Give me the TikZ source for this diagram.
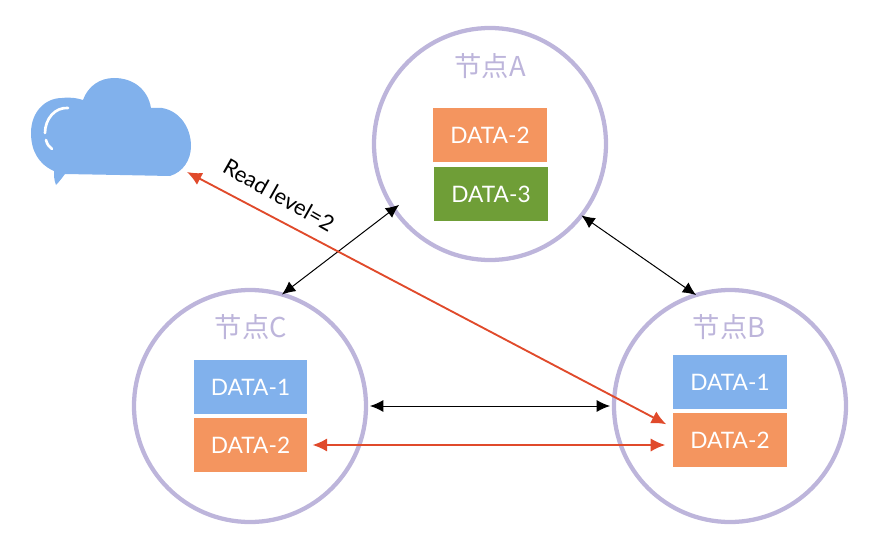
\documentclass[tikz,border=0pt]{standalone}
\usepackage{fontspec}
\setmainfont{Lato}
\newfontfamily\cjkfont{Noto Sans CJK SC}
\usetikzlibrary{arrows.meta}
\definecolor{ringc}{HTML}{BDB5DB}
\definecolor{orangec}{HTML}{F4955F}
\definecolor{greenc}{HTML}{6F9E37}
\definecolor{bluec}{HTML}{81B1EC}
\definecolor{redc}{HTML}{E04A2B}
\tikzset{
  x=0.75pt,y=-0.75pt,
  ring/.style={circle,draw=ringc,line width=3.2pt,minimum size=174pt,inner sep=0pt,outer sep=0pt},
  ringlabel/.style={text=ringc,font=\fontsize{20.5}{22}\selectfont\cjkfont,inner sep=0pt},
  databox/.style={minimum width=85pt,minimum height=40.5pt,inner sep=0pt,outer sep=0pt,text=white,font=\fontsize{17}{19}\selectfont},
  orangebox/.style={databox,fill=orangec},
  greenbox/.style={databox,fill=greenc},
  bluebox/.style={databox,fill=bluec},
  blackarrow/.style={{Latex[length=10pt,width=9pt]}-{Latex[length=10pt,width=9pt]},line width=0.75pt,black},
  redarrow/.style={{Latex[length=11pt,width=10pt]}-{Latex[length=11pt,width=10pt]},line width=1.4pt,redc},
}
\begin{document}
\begin{tikzpicture}
\useasboundingbox (0,0) rectangle (882,535);
% cloud
\fill[bluec] (56,185)
  .. controls (54,180) and (54,176) .. (54,171)
  .. controls (38,164) and (31,150) .. (31,133)
  .. controls (31,112) and (45,98) .. (62,98)
  .. controls (70,97) and (77,98) .. (83,100)
  .. controls (88,86) and (100,78) .. (114,78)
  .. controls (134,78) and (148,90) .. (151,108)
  .. controls (155,108) and (158,108) .. (162,108)
  .. controls (180,111) and (191,128) .. (191,146)
  .. controls (191,160) and (183,172) .. (170,176)
  -- (120,175) -- (65,174)
  .. controls (62,178) and (59,182) .. (56,185) -- cycle;
\draw[white,line width=2pt,line cap=round] (68,108) .. controls (55,107) and (45,119) .. (45,133);
\draw[white,line width=2pt,line cap=round] (46,140) .. controls (47,144) and (49,147) .. (52,149);
\coordinate (cloud) at (187,172);
% rings
\node[ring] (A) at (490,144) {};
\node[ring] (B) at (730,406) {};
\node[ring] (C) at (250,406) {};
\node[ringlabel] (la) at (490,66) {节点A};
\node[ringlabel] (lb) at (729,327) {节点B};
\node[ringlabel] (lc) at (251,327) {节点C};
% data boxes
\node[orangebox] (a2) at (490,135) {DATA-2};
\node[greenbox] (a3) at (491,194) {DATA-3};
\node[bluebox] (b1) at (730,382) {DATA-1};
\node[orangebox] (b2) at (730,440) {DATA-2};
\node[bluebox] (c1) at (250.5,387) {DATA-1};
\node[orangebox] (c2) at (250.5,445) {DATA-2};
% connectors
\draw[blackarrow,shorten >=-5pt] (C.74) -- (A.214);
\draw[blackarrow] (A.322) -- (B.107);
\draw[blackarrow,shorten <=3pt,shorten >=3pt] (C.0) -- (B.180);
\draw[redarrow,shorten <=4pt,shorten >=6pt] (c2.east) -- (c2.east -| b2.west);
\draw[redarrow,shorten >=6pt] (cloud) -- (b2.west |- 0,428);
\node[rotate=-29.5,inner sep=0pt,font=\fontsize{16.5}{18}\selectfont] (rl) at (279,195) {Read level=2};
\end{tikzpicture}
\end{document}
